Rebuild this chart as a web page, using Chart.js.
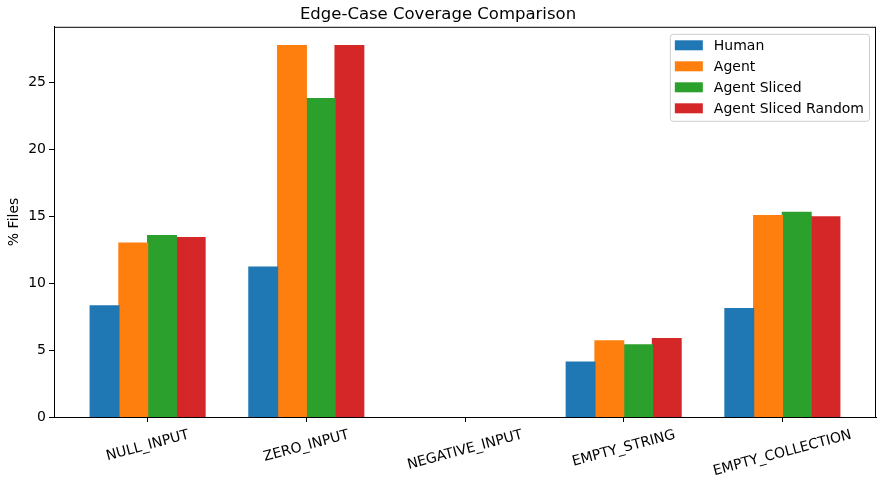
<!DOCTYPE html>
<html>
<head>
<meta charset="utf-8">
<script src="https://cdn.jsdelivr.net/npm/chart.js@4"></script>
<style>
  html, body { margin: 0; padding: 0; background: #fff; }
  #wrap { width: 880px; height: 480px; }
</style>
</head>
<body>
<div id="wrap"><canvas id="chart" width="880" height="480"></canvas></div>
<script>
// 데이터
const categories = ['NULL_INPUT', 'ZERO_INPUT', 'NEGATIVE_INPUT', 'EMPTY_STRING', 'EMPTY_COLLECTION'];
const seriesNames = ['Human', 'Agent', 'Agent Sliced', 'Agent Sliced Random'];
const human        = [8.3, 11.2, 0, 4.1, 8.1];
const agent        = [13.0, 27.75, 0, 5.7, 15.05];
const agentSliced  = [13.55, 23.8, 0, 5.4, 15.3];
const agentRandom  = [13.4, 27.75, 0, 5.85, 14.95];
const yTicks = [0, 5, 10, 15, 20, 25];
const colors = ['#1f77b4', '#ff7f0e', '#2ca02c', '#d62728'];

const FONT = 'DejaVu Sans';

document.addEventListener('DOMContentLoaded', () => {
  drawChart();
});

function toPoints(vals) {
  return vals.map((v, i) => ({ x: i, y: v }));
}

/* 회전된 x 라벨 (matplotlib 처럼 가운데 정렬) */
const xLabelPlugin = {
  id: 'xLabels',
  afterDraw(chart) {
    const { ctx, scales: { x }, chartArea } = chart;
    const ang = 15 * Math.PI / 180;
    ctx.save();
    ctx.font = `14px "${FONT}"`;
    ctx.fillStyle = '#000';
    ctx.textAlign = 'center';
    ctx.textBaseline = 'middle';
    categories.forEach((c, i) => {
      const px = x.getPixelForValue(i);
      const w = ctx.measureText(c).width;
      const h = 16;
      const bh = w * Math.sin(ang) + h * Math.cos(ang);
      const cy = chartArea.bottom + 10 + bh / 2;
      ctx.save();
      ctx.translate(px, cy);
      ctx.rotate(-ang);
      ctx.fillText(c, 0, 0);
      ctx.restore();
    });
    ctx.restore();
  }
};

/* 테두리 + 범례 (플롯 안쪽 오른쪽 위) */
const framePlugin = {
  id: 'frame',
  afterDraw(chart) {
    const { ctx, chartArea: a } = chart;
    ctx.save();
    ctx.strokeStyle = '#000';
    ctx.lineWidth = 1;
    ctx.strokeRect(a.left + 0.5, a.top + 0.5, a.right - a.left - 1, a.bottom - a.top);

    ctx.font = `14px "${FONT}"`;
    const names = chart.data.datasets.map(d => d.label);
    const maxW = Math.max(...names.map(n => ctx.measureText(n).width));
    const bw = 44 + maxW + 5;
    const bh = 87;
    const bx = a.right - 7 - bw;
    const by = a.top + 7;
    ctx.beginPath();
    ctx.roundRect(bx + 0.5, by + 0.5, bw, bh, 3);
    ctx.fillStyle = 'rgba(255,255,255,0.8)';
    ctx.fill();
    ctx.strokeStyle = '#cccccc';
    ctx.stroke();

    ctx.textBaseline = 'middle';
    ctx.textAlign = 'left';
    chart.data.datasets.forEach((d, i) => {
      const cy = by + 11.5 + i * 21;
      ctx.fillStyle = d.backgroundColor;
      ctx.fillRect(bx + 5, cy - 5, 28, 10);
      ctx.fillStyle = '#000';
      ctx.fillText(d.label, bx + 44, cy + 1);
    });
    ctx.restore();
  }
};

function drawChart() {
  const ctx = document.getElementById('chart').getContext('2d');
  const all = [human, agent, agentSliced, agentRandom];

  new Chart(ctx, {
    type: 'bar',
    data: {
      datasets: all.map((vals, i) => ({
        label: seriesNames[i],
        data: toPoints(vals),
        backgroundColor: colors[i],
        borderWidth: 0,
        // 0 값 막대는 부풀리지 않음 (선처럼 보이지 않게)
        inflateAmount: (c) => (c.raw && c.raw.y > 0 ? 0.6 : 0),
        categoryPercentage: 0.724,
        barPercentage: 1.0
      }))
    },
    options: {
      responsive: false,
      animation: false,
      layout: { padding: { left: 0, right: 4, top: 0, bottom: 0 } },
      scales: {
        x: {
          type: 'linear',
          min: -0.59,
          max: 4.59,
          offset: false,
          afterBuildTicks: (s) => { s.ticks = categories.map((c, i) => ({ value: i })); },
          afterFit: (s) => { s.height = 63; },
          ticks: { display: false },
          grid: { offset: false, drawOnChartArea: false, color: '#000', tickLength: 5 },
          border: { display: true, color: '#000' }
        },
        y: {
          min: 0,
          max: 29.16,
          afterBuildTicks: (s) => { s.ticks = yTicks.map(v => ({ value: v })); },
          afterFit: (s) => { s.width = 54; },
          ticks: { color: '#000', padding: 3, font: { family: FONT, size: 14 } },
          grid: { drawOnChartArea: false, color: '#000', tickLength: 5 },
          border: { display: true, color: '#000' },
          title: {
            display: true,
            text: '% Files',
            color: '#000',
            font: { family: FONT, size: 14 },
            padding: { top: 6, bottom: 0 }
          }
        }
      },
      plugins: {
        legend: { display: false },
        tooltip: { enabled: false },
        title: {
          display: true,
          text: 'Edge-Case Coverage Comparison',
          color: '#000',
          font: { family: FONT, size: 16.5, weight: 'normal' },
          padding: { top: 5, bottom: 2 }
        }
      }
    },
    plugins: [xLabelPlugin, framePlugin]
  });
}
</script>
</body>
</html>
